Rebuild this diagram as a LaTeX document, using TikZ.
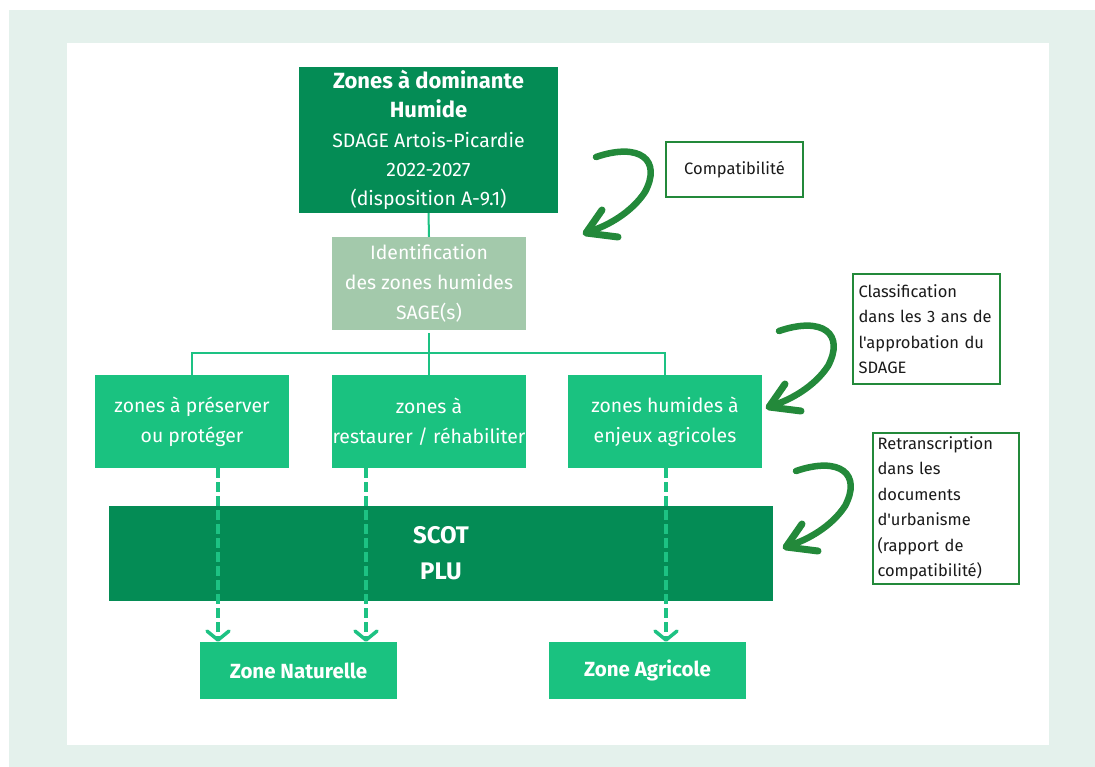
\documentclass[tikz,border=0pt]{standalone}
\usepackage{fontspec}
\setmainfont{Fira Sans}[Ligatures=TeXOff]
\usetikzlibrary{arrows.meta}
\definecolor{dkg}{HTML}{048C55}
\definecolor{mdg}{HTML}{1AC280}
\definecolor{sage}{HTML}{A3C9AB}
\definecolor{lnc}{HTML}{1DC283}
\definecolor{brc}{HTML}{23893A}
\definecolor{bgc}{HTML}{E4F1EC}
\definecolor{txk}{HTML}{1A1A1A}
\tikzset{
  box/.style={inner sep=0pt, align=center, text=white},
  midbox/.style={box, fill=mdg, minimum width=194pt, minimum height=93pt, font=\fontsize{19.4}{30}\selectfont},
  zonebox/.style={box, fill=mdg, minimum width=197pt, minimum height=57pt, font=\fontsize{20.5}{26}\selectfont\bfseries},
  sidebox/.style={draw=brc, line width=2pt, inner sep=0pt, text=txk, font=\fontsize{16.5}{25.5}\selectfont},
  conn/.style={draw=lnc, line width=2pt},
  dasharrow/.style={draw=lnc, line width=3.5pt, dash pattern=on 10pt off 4pt, -{Straight Barb[length=9pt,width=22pt,line width=3.5pt,round]}},
  brusharrow/.pic={
    \draw[brc, line width=6.5pt, line cap=round] (596,157) .. controls (640,142) and (662,160) .. (645,192) .. controls (632,212) and (608,226) .. (588,232);
    \draw[brc, line width=7pt, line cap=round, line join=round] (602,210) -- (586,233) -- (618,237);
  }
}
\begin{document}
\begin{tikzpicture}[x=1pt,y=-1pt]
\useasboundingbox (0,0) rectangle (1095,767);
\fill[white] (0,0) rectangle (1095,767);
\fill[bgc] (9,10) rectangle (1095,767);
\fill[white] (67,43) rectangle (1049,745);

\node[box, fill=dkg, minimum width=259pt, minimum height=146pt, font=\fontsize{19.5}{29.3}\selectfont] (top) at (428.5,140)
  {{\fontsize{22}{29.3}\selectfont\bfseries Zones à dominante}\\{\fontsize{22}{31}\selectfont\bfseries Humide}\\SDAGE Artois-Picardie\\2022-2027\\(disposition A-9.1)};
\node[box, fill=sage, minimum width=194pt, minimum height=93pt, font=\fontsize{19.4}{30}\selectfont] (id) at (429,283.5)
  {Identification\\des zones humides\\SAGE(s)};
\node[midbox] (b1) at (192,421.5) {zones à préserver\\ou protéger};
\node[midbox] (b2) at (429,421.5) {zones à\\restaurer / réhabiliter};
\node[midbox] (b3) at (665,421.5) {zones humides à\\enjeux agricoles};
\node[box, fill=dkg, minimum width=664pt, minimum height=95pt, font=\fontsize{24}{36}\selectfont\bfseries] (scot) at (441,553.5) {SCOT\\PLU};
\node[zonebox] (zn) at (298.5,670.5) {Zone Naturelle};
\node[zonebox] (za) at (647.5,670.5) {Zone Agricole};

\node[sidebox, minimum width=137pt, minimum height=55pt, align=center] (compat) at (734.5,169.5) {Compatibilité};
\node[sidebox, minimum width=147pt, minimum height=110pt, text width=136pt, align=left] (classif) at (926.5,329)
  {Classification\\dans les 3 ans de\\l'approbation du\\SDAGE};
\node[sidebox, minimum width=146pt, minimum height=151pt, text width=137pt, align=left] (retr) at (946,508.5)
  {Retranscription\\dans les\\documents\\d'urbanisme\\(rapport de\\compatibilité)};

\draw[conn] (top.south) -- (id.north);
\draw[conn] ([yshift=-3pt]id.south) -- (b2.north);
\draw[conn] (b1.north) -- ++(0,-22) -| (b3.north);

\draw[dasharrow] ([xshift=26pt]b1.south) -- ([xshift=26pt]b1.south |- zn.north);
\draw[dasharrow] ([xshift=-63pt]b2.south) -- ([xshift=-63pt]b2.south |- zn.north);
\draw[dasharrow] ([xshift=1pt]b3.south) -- ([xshift=1pt]b3.south |- za.north);

\pic at (0,0) {brusharrow};
\pic at (183,174) {brusharrow};
\pic at (200,314) {brusharrow};
\end{tikzpicture}
\end{document}
